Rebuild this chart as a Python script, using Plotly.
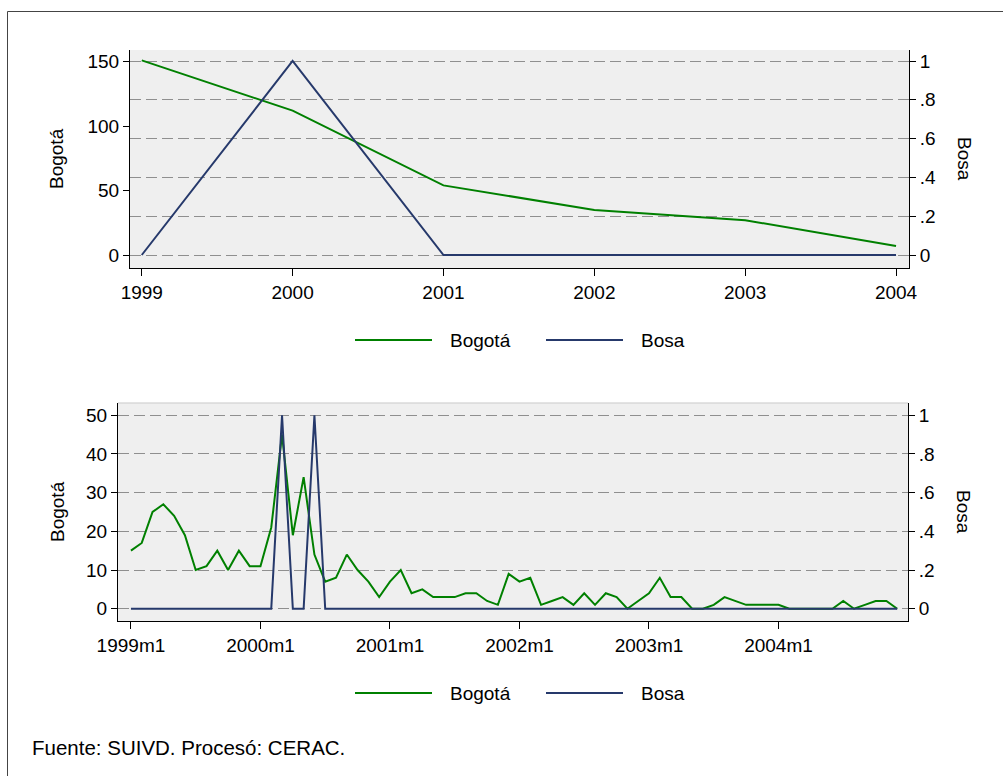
import plotly.graph_objects as go

W, H = 1003, 776

# ---- data ----
anios = [1999, 2000, 2001, 2002, 2003, 2004]
bogota_anual = [151, 112, 54, 35, 27, 7]
bosa_anual = [0, 1, 0, 0, 0, 0]

meses = [f"{a}m{m}" for a in anios for m in range(1, 13)]
bogota_mensual = [15, 17, 25, 27, 24, 19, 10, 11, 15, 10, 15, 11,
                  11, 21, 45, 19, 34, 14, 7, 8, 14, 10, 7, 3,
                  7, 10, 4, 5, 3, 3, 3, 4, 4, 2, 1, 9,
                  7, 8, 1, 2, 3, 1, 4, 1, 4, 3, 0, 2,
                  4, 8, 3, 3, 0, 0, 1, 3, 2, 1, 1, 1,
                  1, 0, 0, 0, 0, 0, 2, 0, 1, 2, 2, 0]
bosa_mensual = [0] * 14 + [1, 0, 0, 1] + [0] * 54

ticks_izq_top = [0, 50, 100, 150]
ticks_izq_bot = [0, 10, 20, 30, 40, 50]
ticks_der = [0, 0.2, 0.4, 0.6, 0.8, 1]
ticks_der_txt = ["0", ".2", ".4", ".6", ".8", "1"]
ticks_mes = ["1999m1", "2000m1", "2001m1", "2002m1", "2003m1", "2004m1"]

VERDE = "#008000"
AZUL = "#26396b"
FONT = "Arial, Liberation Sans, sans-serif"
FS = 19


def px(x):
    return x / W


def py(y):
    return 1 - y / H


fig = go.Figure()
fig.add_trace(go.Scatter(x=anios, y=bogota_anual, mode="lines", name="Bogotá",
                         line=dict(color=VERDE, width=2), xaxis="x", yaxis="y"))
fig.add_trace(go.Scatter(x=anios, y=bosa_anual, mode="lines", name="Bosa",
                         line=dict(color=AZUL, width=2), xaxis="x", yaxis="y2"))
fig.add_trace(go.Scatter(x=meses, y=bogota_mensual, mode="lines", name="Bogotá",
                         line=dict(color=VERDE, width=2), xaxis="x2", yaxis="y3"))
fig.add_trace(go.Scatter(x=meses, y=bosa_mensual, mode="lines", name="Bosa",
                         line=dict(color=AZUL, width=2), xaxis="x2", yaxis="y4"))

axis_common = dict(showline=True, linecolor="black", linewidth=1, ticks="outside",
                   tickcolor="black", tickwidth=1, tickfont=dict(family=FONT, size=FS, color="black"),
                   zeroline=False, fixedrange=True, automargin=False)
grid = dict(showgrid=True, gridcolor="#8f8f8f", gridwidth=1, griddash="11px,5px")

fig.update_layout(
    template="none",
    width=W, height=H, margin=dict(l=0, r=0, t=0, b=0, pad=0), autosize=False,
    paper_bgcolor="white", plot_bgcolor="#efefef", showlegend=False,
    font=dict(family=FONT, size=FS, color="black"),
    xaxis=dict(domain=[px(130), px(909)], anchor="y", range=[1998.922, 2004.086],
               tickvals=anios, ticklen=7, showgrid=False, **axis_common),
    yaxis=dict(domain=[py(268), py(50)], anchor="x", range=[-10.09, 159.08],
               tickvals=ticks_izq_top, ticklen=6, showgrid=False, **axis_common),
    yaxis2=dict(overlaying="y", side="right", anchor="x", range=[-0.067, 1.0567],
                tickvals=ticks_der, ticktext=ticks_der_txt, ticklen=6, **grid, **axis_common),
    xaxis2=dict(domain=[px(118), px(908)], anchor="y3", type="category", range=[-1.2, 72.0],
                tickvals=ticks_mes, ticklen=7, showgrid=False, **axis_common),
    yaxis3=dict(domain=[py(621), py(402.7)], anchor="x2", range=[-3.18, 53.26],
                tickvals=ticks_izq_bot, ticklen=6, showgrid=False, **axis_common),
    yaxis4=dict(overlaying="y3", side="right", anchor="x2", range=[-0.0636, 1.0652],
                tickvals=ticks_der, ticktext=ticks_der_txt, ticklen=6, **grid, **axis_common),
)

shapes = []
annots = []
# outer frame
shapes.append(dict(type="line", xref="paper", yref="paper", x0=px(7.5), x1=1.0, y0=py(11.5), y1=py(11.5),
                   line=dict(color="#444", width=1)))
shapes.append(dict(type="line", xref="paper", yref="paper", x0=px(7.5), x1=px(7.5), y0=py(11.5), y1=0,
                   line=dict(color="#444", width=1)))
# faint top border of lower plot
shapes.append(dict(type="line", xref="paper", yref="paper", x0=px(118), x1=px(908), y0=py(403), y1=py(403),
                   line=dict(color="#cccccc", width=1)))

# axis titles
for yc in (159, 512):
    annots.append(dict(text="Bogotá", x=px(57), y=py(yc), xref="paper", yref="paper",
                       xanchor="center", yanchor="middle",
                       textangle=-90, showarrow=False, font=dict(size=FS)))
    annots.append(dict(text="Bosa", x=px(964), y=py(yc), xref="paper", yref="paper",
                       xanchor="center", yanchor="middle",
                       textangle=90, showarrow=False, font=dict(size=FS)))

# legends
for yl in (340, 693):
    for (x0, x1, col, txt, xt) in [(355, 432, VERDE, "Bogotá", 448), (546, 623, AZUL, "Bosa", 639)]:
        shapes.append(dict(type="line", xref="paper", yref="paper", x0=px(x0), x1=px(x1),
                           y0=py(yl), y1=py(yl), line=dict(color=col, width=2)))
        annots.append(dict(text=txt, x=px(xt), y=py(yl), xref="paper", yref="paper",
                           xanchor="left", yanchor="middle", showarrow=False, font=dict(size=FS)))

annots.append(dict(text="Fuente: SUIVD. Procesó: CERAC.", x=px(30), y=py(747), xref="paper", yref="paper",
                   xanchor="left", yanchor="middle", showarrow=False, font=dict(size=20.5)))

fig.update_layout(shapes=shapes, annotations=annots)

fig.write_html("out.html", config=dict(displayModeBar=False),
               post_script="document.body.style.margin='0';")
